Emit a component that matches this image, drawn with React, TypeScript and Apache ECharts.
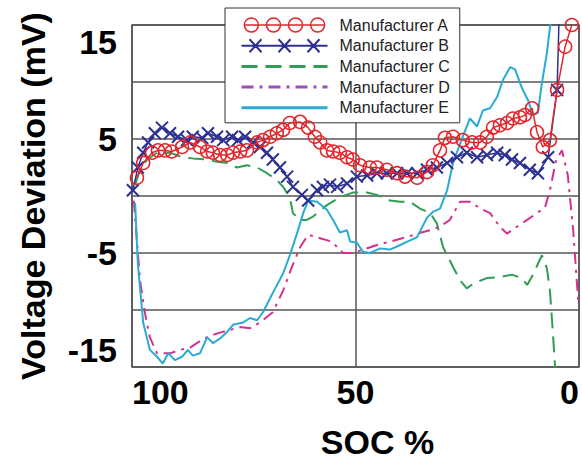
import React, { useEffect, useRef } from "react";
import * as echarts from "echarts";

const FONT = "'Liberation Sans', Arial, sans-serif";
const LEGEND_FONT = "'Liberation Sans', Arial, sans-serif";

const seriesNames = ["Manufacturer A", "Manufacturer B", "Manufacturer C", "Manufacturer D", "Manufacturer E"];
const xTitle = "SOC %";
const yTitle = "Voltage Deviation (mV)";

const socA = [98.9, 97.5, 95.5, 94.2, 92.6, 91.1, 88.8, 87.0, 84.8, 83.2, 81.9, 80.3, 78.7, 77.4, 75.8, 74.3, 72.0, 70.7, 69.1, 67.6, 66.2, 64.7, 62.4, 60.6, 59.1, 57.9, 56.4, 55.0, 53.5, 51.9, 50.6, 49.0, 46.8, 45.2, 43.0, 40.7, 38.9, 36.2, 34.0, 32.7, 31.1, 30.0, 28.2, 26.0, 23.9, 22.1, 20.6, 19.2, 17.7, 16.1, 14.8, 13.2, 12.1, 10.5, 9.4, 8.1, 6.5, 4.9, 3.1, 1.6, 0.2];
const valA = [1.6, 2.9, 3.8, 4.0, 4.0, 3.9, 4.3, 4.7, 4.3, 3.9, 3.8, 3.6, 3.6, 3.8, 3.9, 4.0, 4.7, 4.9, 5.2, 5.5, 5.8, 6.4, 6.5, 6.0, 5.2, 4.7, 4.0, 3.9, 3.8, 3.4, 3.2, 2.7, 2.5, 2.5, 2.3, 2.0, 1.7, 1.6, 2.1, 2.7, 4.0, 5.1, 5.2, 4.9, 4.7, 4.7, 5.2, 6.0, 6.2, 6.4, 6.8, 6.9, 7.1, 7.7, 5.6, 4.3, 4.9, 9.3, 13.1, 15.0, 17.0];

const socB = [99.8, 98.7, 97.5, 96.4, 94.9, 93.3, 91.5, 89.7, 87.7, 86.4, 84.3, 83.0, 81.0, 79.6, 77.6, 76.3, 74.7, 72.9, 71.4, 69.8, 68.5, 66.9, 65.3, 64.0, 62.0, 60.6, 58.6, 57.3, 55.7, 54.1, 51.9, 49.7, 47.4, 45.2, 43.0, 40.7, 38.5, 36.2, 34.0, 31.8, 29.5, 27.3, 25.1, 22.8, 20.6, 18.3, 16.6, 15.0, 13.2, 11.0, 9.2, 6.9, 4.9, 4.4];
const valB = [0.5, 2.5, 3.8, 4.7, 5.5, 6.0, 5.5, 5.2, 4.9, 5.2, 5.1, 5.5, 5.2, 4.9, 5.2, 4.9, 5.2, 4.7, 4.3, 3.8, 3.2, 2.5, 1.7, 0.8, 0.1, -0.4, 0.5, 0.8, 1.0, 0.8, 1.1, 1.7, 1.8, 2.0, 2.0, 2.0, 2.0, 2.0, 2.3, 2.5, 2.9, 3.4, 3.8, 3.4, 3.6, 3.8, 3.6, 3.2, 2.9, 2.3, 2.0, 3.4, 9.3, 16.5];

const socC = [99.3, 98.2, 96.6, 94.4, 91.5, 88.8, 86.4, 83.2, 81.0, 78.7, 76.5, 74.3, 72.0, 69.8, 67.6, 66.2, 64.7, 64.0, 62.4, 60.9, 59.5, 56.4, 53.5, 50.6, 47.4, 45.2, 42.3, 40.0, 37.8, 35.6, 33.3, 31.8, 30.4, 28.2, 26.6, 25.1, 23.3, 20.6, 17.7, 15.0, 12.8, 11.6, 10.3, 8.3, 7.2, 6.5, 6.0, 5.4, 5.0];
const valC = [1.0, 2.3, 3.2, 3.8, 3.8, 3.4, 3.3, 3.2, 3.0, 2.9, 2.5, 2.7, 2.5, 2.0, 1.4, 0.8, -0.1, -1.5, -2.1, -2.1, -1.8, -0.8, -0.1, 0.3, 0.3, 0.1, -0.4, -0.5, -0.5, -1.1, -1.5, -2.4, -4.5, -6.2, -7.4, -8.1, -7.6, -7.2, -7.1, -6.9, -7.2, -7.8, -6.9, -5.2, -6.3, -8.3, -11.1, -14.7, -16.5];

const socD = [99.6, 98.2, 97.1, 96.0, 94.4, 91.5, 89.3, 87.0, 84.3, 82.1, 79.6, 75.8, 73.6, 71.4, 68.5, 66.2, 64.2, 62.4, 60.6, 57.9, 55.3, 52.8, 50.6, 48.3, 45.2, 42.3, 38.5, 36.2, 33.3, 31.1, 28.9, 26.6, 24.4, 22.1, 19.9, 17.7, 16.1, 13.9, 11.6, 9.4, 7.6, 6.5, 5.1, 3.8, 2.5, 1.3, 0.2];
const valD = [-0.4, -7.4, -10.3, -12.4, -13.8, -13.8, -13.5, -13.3, -12.6, -12.2, -11.9, -11.5, -11.6, -11.1, -10.2, -8.3, -6.2, -4.5, -3.4, -3.7, -4.0, -5.0, -5.0, -4.7, -4.3, -4.0, -3.6, -3.3, -3.0, -2.7, -2.1, -0.5, -0.5, -1.1, -1.5, -2.7, -3.3, -2.7, -2.1, -1.5, -1.0, 0.5, 3.2, 4.0, 1.8, -3.0, -9.1];

const socE = [99.3, 98.7, 97.5, 96.0, 94.4, 93.1, 91.9, 90.4, 88.8, 87.5, 86.4, 84.8, 83.2, 81.9, 80.3, 78.7, 77.4, 75.2, 73.6, 72.0, 70.7, 68.5, 66.2, 64.7, 63.1, 61.7, 60.6, 58.6, 56.4, 55.0, 53.5, 51.9, 51.2, 49.7, 48.3, 46.8, 44.5, 42.3, 40.0, 37.8, 36.2, 34.0, 32.7, 31.1, 29.5, 28.2, 26.0, 24.4, 22.8, 21.5, 19.9, 18.3, 17.0, 15.4, 14.3, 12.8, 11.4, 10.3, 9.2, 8.3, 7.2, 6.5, 6.0];
const valE = [-0.6, -5.9, -11.1, -13.5, -14.1, -14.7, -13.8, -14.4, -14.1, -13.5, -14.0, -13.8, -12.4, -12.9, -12.5, -11.9, -11.3, -11.1, -10.7, -10.9, -10.2, -8.5, -6.8, -5.2, -3.3, -1.5, -0.4, -0.5, -1.2, -2.1, -3.2, -3.0, -4.0, -4.1, -4.9, -5.0, -4.6, -4.7, -4.3, -3.9, -3.6, -1.9, -1.4, -1.1, 0.5, 2.9, 5.2, 6.8, 6.1, 7.5, 7.7, 8.7, 10.2, 11.3, 11.1, 9.5, 8.4, 7.1, 7.3, 9.9, 12.5, 14.8, 16.0];

const xTicks = [0, 50, 100];
const yMin = -15;
const yMax = 15;

const COLORS = ["#e3262c", "#2e3192", "#2f9e52", "#d4318f", "#29abd4"];

const pairs = (xs: number[], ys: number[]) => xs.map((x, i) => [x, ys[i]]);

const ICON_A =
  "path://M0,7.5L86,7.5M0,7.5a7.5,7.5 0 1,0 15,0a7.5,7.5 0 1,0 -15,0M23.7,7.5a7.5,7.5 0 1,0 15,0a7.5,7.5 0 1,0 -15,0M47.3,7.5a7.5,7.5 0 1,0 15,0a7.5,7.5 0 1,0 -15,0M71,7.5a7.5,7.5 0 1,0 15,0a7.5,7.5 0 1,0 -15,0";
const ICON_B =
  "path://M0,7.5L86,7.5M8,1L20,14M20,1L8,14M37,1L49,14M49,1L37,14M66,1L78,14M78,1L66,14";

export default function App() {
  const ref = useRef<HTMLDivElement>(null);
  useEffect(() => {
    if (!ref.current) return;
    const chart = echarts.init(ref.current, null, { renderer: "svg" });
    const axisText = { fontFamily: FONT, fontWeight: "bold", fontSize: 34, color: "#000" };
    const option: any = {
      animation: false,
      backgroundColor: "#fff",
      grid: {
        left: 132,
        right: 3,
        top: 25,
        bottom: 97,
        show: true,
        borderColor: "#555",
        borderWidth: 1.5,
        outerBoundsMode: "none",
        containLabel: false,
      },
      legend: {
        orient: "vertical",
        left: 225,
        top: 8,
        padding: [9, 10, 7, 15],
        itemWidth: 86,
        itemHeight: 14,
        itemGap: 4.7,
        backgroundColor: "#fff",
        borderColor: "#333",
        borderWidth: 1,
        textStyle: { fontFamily: LEGEND_FONT, fontSize: 16, color: "#222", padding: [0, 0, 0, 7] },
        data: [
          { name: seriesNames[0], icon: ICON_A, itemStyle: { color: "transparent", borderColor: COLORS[0], borderWidth: 1.5 } },
          { name: seriesNames[1], icon: ICON_B, itemStyle: { color: "transparent", borderColor: COLORS[1], borderWidth: 2 } },
          { name: seriesNames[2], itemStyle: { opacity: 0 }, lineStyle: { width: 3 } },
          { name: seriesNames[3], itemStyle: { opacity: 0 }, lineStyle: { color: "#a04fb6", width: 3 } },
          { name: seriesNames[4], itemStyle: { opacity: 0 }, lineStyle: { width: 3 } },
        ],
      },
      xAxis: {
        type: "value",
        min: xTicks[0],
        max: xTicks[2],
        interval: xTicks[1] - xTicks[0],
        inverse: true,
        axisLine: { show: false },
        axisTick: { show: false },
        splitLine: { show: true, lineStyle: { color: "#555", width: 1.5 } },
        axisLabel: { ...axisText, margin: 8, alignMinLabel: "right", alignMaxLabel: "left" },
        name: xTitle,
        nameLocation: "middle",
        nameGap: 58,
        nameTextStyle: { ...axisText, padding: [0, 0, 0, 44] },
      },
      yAxis: {
        type: "value",
        min: yMin,
        max: yMax,
        interval: 5,
        axisLine: { show: false },
        axisTick: { show: false },
        splitLine: { show: true, lineStyle: { color: "#555", width: 1.5 } },
        axisLabel: {
          ...axisText,
          margin: 15,
          formatter: (v: number) => (Math.abs(v) % 10 === 5 ? String(v) : ""),
          verticalAlignMinLabel: "bottom",
          verticalAlignMaxLabel: "top",
        },
        name: yTitle,
        nameLocation: "middle",
        nameGap: 82,
        nameTextStyle: axisText,
      },
      series: [
        {
          name: seriesNames[0],
          type: "line",
          data: pairs(socA, valA),
          symbol: "circle",
          symbolSize: 13,
          showAllSymbol: true,
          clip: true,
          itemStyle: { color: "transparent", borderColor: COLORS[0], borderWidth: 1.5 },
          lineStyle: { color: COLORS[0], width: 1.5 },
          z: 6,
        },
        {
          name: seriesNames[1],
          type: "line",
          data: pairs(socB, valB),
          symbol: "path://M0,0L10,10M10,0L0,10",
          symbolSize: 12,
          showAllSymbol: true,
          clip: true,
          itemStyle: { color: "transparent", borderColor: COLORS[1], borderWidth: 2 },
          lineStyle: { color: COLORS[1], width: 1.5 },
          z: 5,
        },
        {
          name: seriesNames[2],
          type: "line",
          data: pairs(socC, valC),
          symbol: "none",
          clip: true,
          itemStyle: { color: COLORS[2] },
          lineStyle: { color: COLORS[2], width: 2, type: [16, 8] },
          z: 3,
        },
        {
          name: seriesNames[3],
          type: "line",
          data: pairs(socD, valD),
          symbol: "none",
          clip: true,
          itemStyle: { color: COLORS[3] },
          lineStyle: { color: COLORS[3], width: 2, type: [12, 6, 3, 6] },
          z: 3,
        },
        {
          name: seriesNames[4],
          type: "line",
          data: pairs(socE, valE),
          symbol: "none",
          clip: true,
          itemStyle: { color: COLORS[4] },
          lineStyle: { color: COLORS[4], width: 2 },
          z: 4,
        },
      ],
    };
    chart.setOption(option);
    return () => chart.dispose();
  }, []);
  return <div ref={ref} style={{ position: "fixed", left: 0, top: 0, width: 582, height: 464 }} />;
}
